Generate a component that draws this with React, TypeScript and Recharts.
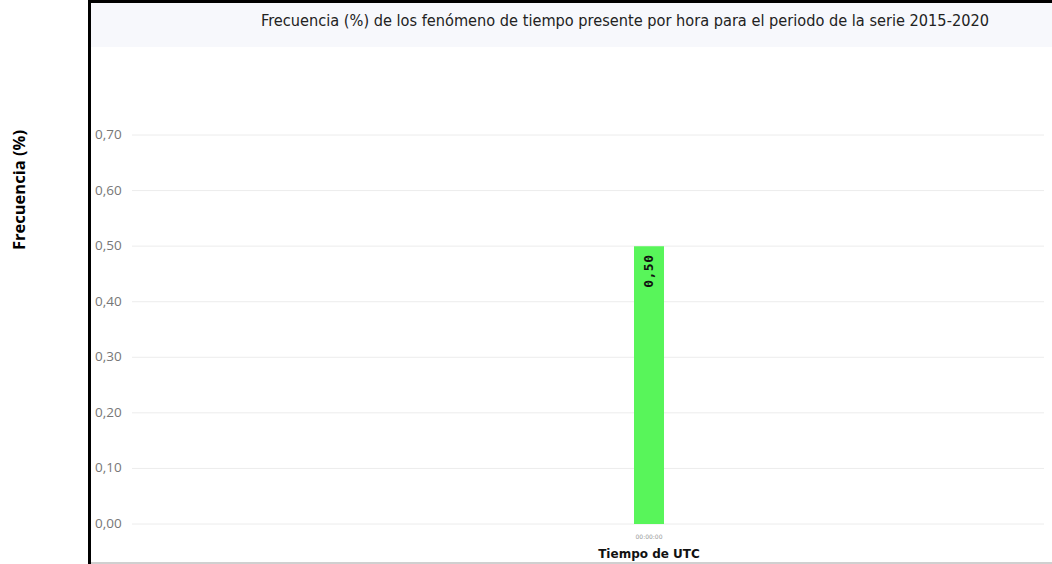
import React from 'react'
import { BarChart, Bar, XAxis, YAxis, CartesianGrid, LabelList } from 'recharts'

const categories = ['00:00:00']
const frecuencia = [0.5]
const yTicks = [0, 0.1, 0.2, 0.3, 0.4, 0.5, 0.6, 0.7]

const data = categories.map((hora, i) => ({ hora, frecuencia: frecuencia[i] }))

const fmt = (v: number) => v.toFixed(2).replace('.', ',')

function YTick(props: any) {
  const { y, payload } = props
  return (
    <text x={95} y={y} dy={4} fontSize={13.5} fill="#777" fontFamily="'Open Sans', sans-serif">
      {fmt(payload.value)}
    </text>
  )
}

function XTick(props: any) {
  const { x, y, payload } = props
  return (
    <g>
      <text x={x} y={y + 7} textAnchor="middle" fontSize={6} fill="#999" fontFamily="'DejaVu Sans', sans-serif">
        {payload.value}
      </text>
      <text x={x} y={y + 26} textAnchor="middle" fontSize={12} fontWeight="bold" fill="#111" fontFamily="'DejaVu Sans', sans-serif">
        Tiempo de UTC
      </text>
    </g>
  )
}

function BarValue(props: any) {
  const { x, y, width, value } = props
  const cx = x + width / 2
  const cy = y + 25
  return (
    <text
      x={cx}
      y={cy}
      transform={`rotate(-90 ${cx} ${cy})`}
      textAnchor="middle"
      dominantBaseline="central"
      fontSize={13}
      fontWeight="bold"
      letterSpacing={0.5}
      fill="#111"
      fontFamily="'DejaVu Sans Mono', monospace"
    >
      {fmt(value)}
    </text>
  )
}

export default function App() {
  return (
    <div style={{ position: 'fixed', left: 0, top: 0, width: 1052, height: 564, background: '#fff', overflow: 'hidden' }}>
      {/* frame */}
      <div style={{ position: 'absolute', left: 88, top: 0, width: 964, height: 3, background: '#000' }} />
      <div style={{ position: 'absolute', left: 88, top: 0, width: 3, height: 564, background: '#000' }} />
      <div style={{ position: 'absolute', left: 91, top: 562, width: 961, height: 2, background: '#d0d0d0' }} />
      <div style={{ position: 'absolute', left: 91, top: 3, width: 961, height: 44, background: '#f7f8fc' }} />
      <div
        style={{
          position: 'absolute',
          left: 91,
          width: 1068,
          top: 11,
          textAlign: 'center',
          fontFamily: "'Liberation Sans Narrow', 'DejaVu Sans Condensed', sans-serif",
          fontSize: 16.2,
          color: '#222',
          whiteSpace: 'nowrap',
        }}
      >
        Frecuencia (%) de los fenómeno de tiempo presente por hora para el periodo de la serie 2015-2020
      </div>
      <div
        style={{
          position: 'absolute',
          left: 18,
          top: 190,
          transform: 'translate(-50%, -50%) rotate(-90deg)',
          fontFamily: "'Open Sans', sans-serif",
          fontWeight: 'bold',
          fontSize: 16.5,
          color: '#000',
          whiteSpace: 'nowrap',
        }}
      >
        Frecuencia (%)
      </div>
      <div style={{ position: 'absolute', left: 0, top: 0 }}>
        <BarChart width={1052} height={564} data={data} margin={{ top: 135, right: 8, bottom: 0, left: 88 }}>
          <CartesianGrid vertical={false} stroke="#ececec" />
          <XAxis
            dataKey="hora"
            height={40}
            axisLine={false}
            tickLine={false}
            padding={{ left: 122, right: 0 }}
            tick={<XTick />}
          />
          <YAxis
            width={44}
            domain={[0, 0.7]}
            ticks={yTicks}
            axisLine={false}
            tickLine={false}
            tick={<YTick />}
          />
          <Bar dataKey="frecuencia" fill="#58f55a" barSize={30} isAnimationActive={false}>
            <LabelList dataKey="frecuencia" content={<BarValue />} />
          </Bar>
        </BarChart>
      </div>
    </div>
  )
}
